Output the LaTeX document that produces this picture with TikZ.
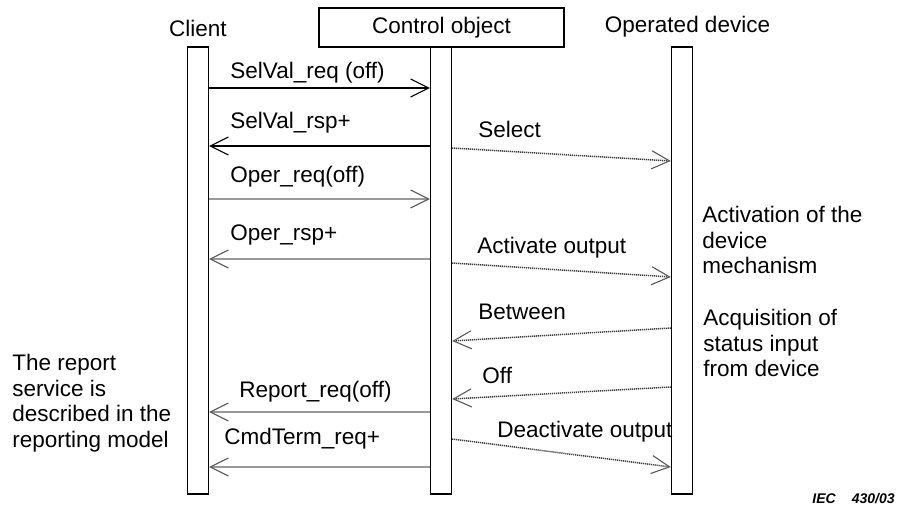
\documentclass[tikz,border=0pt]{standalone}
\usepackage{fontspec}
\setmainfont{Liberation Sans}
\usetikzlibrary{arrows.meta}
\begin{document}
\begin{tikzpicture}[x=0.5pt,y=-0.5pt,
  font=\fontsize{11.25}{12.9}\selectfont,
  bar/.style={draw, line width=0.7pt, minimum width=10.5pt, minimum height=223.5pt, inner sep=0pt},
  lbl/.style={anchor=base west, inner sep=0pt},
  note/.style={anchor=north west, inner sep=0pt, align=left},
  msg/.style={line width=0.55pt, -{Straight Barb[length=9pt,width=9pt]}},
  msgg/.style={line width=0.9pt, draw=black!40, -{Straight Barb[length=9pt,width=9pt,color=black!65,line width=0.55pt]}},
  sig/.style={line width=0.75pt, draw=black!75, dash pattern=on 0.6pt off 0.4pt, -{Straight Barb[length=9pt,width=9pt,color=black!65,line width=0.55pt]}},
]
\useasboundingbox (0,0) rectangle (897,510);

% lifelines
\node[bar] (client) at (198,270.5) {};
\node[bar] (ctrl)   at (441,270.5) {};
\node[bar] (dev)    at (682,270.5) {};

% headers
\node[anchor=base, inner sep=0pt] (clientlbl) at (198,36) {Client};
\node[draw, line width=0.7pt, minimum width=122.5pt, minimum height=19.5pt, inner sep=0pt] (ctrlbox) at (441.5,27.5) {Control object};
\node[anchor=base, inner sep=0pt] (devlbl) at (687.5,32) {Operated device};

% row coordinates
\coordinate (r1) at (0,88);
\coordinate (r2) at (0,146);
\coordinate (r3a) at (0,148);  \coordinate (r3b) at (0,161);
\coordinate (r4) at (0,199);
\coordinate (r5) at (0,259);
\coordinate (r6a) at (0,263);  \coordinate (r6b) at (0,277);
\coordinate (r7a) at (0,328);  \coordinate (r7b) at (0,341);
\coordinate (r8a) at (0,387);  \coordinate (r8b) at (0,399);
\coordinate (r9) at (0,412);
\coordinate (r10) at (0,467);
\coordinate (r11a) at (0,439); \coordinate (r11b) at (0,467);

% messages
\draw[msg]  (client.east |- r1) -- (ctrl.west |- r1);
\draw[msg]  (ctrl.west |- r2) -- (client.east |- r2);
\draw[sig]  (ctrl.east |- r3a) -- (dev.west |- r3b);
\draw[msgg] (client.east |- r4) -- (ctrl.west |- r4);
\draw[msgg] (ctrl.west |- r5) -- (client.east |- r5);
\draw[sig]  (ctrl.east |- r6a) -- (dev.west |- r6b);
\draw[sig]  (dev.west |- r7a) -- (ctrl.east |- r7b);
\draw[sig]  (dev.west |- r8a) -- (ctrl.east |- r8b);
\draw[msgg] (ctrl.west |- r9) -- (client.east |- r9);
\draw[msgg] (ctrl.west |- r10) -- (client.east |- r10);
\draw[sig]  (ctrl.east |- r11a) -- (dev.west |- r11b);

% labels
\node[lbl] (l1) at (230,78) {SelVal\_req (off)};
\node[lbl] (l2) at (230,128) {SelVal\_rsp+};
\node[lbl] (l3) at (478,137) {Select};
\node[lbl] (l4) at (230,182) {Oper\_req(off)};
\node[lbl] (l5) at (230,240) {Oper\_rsp+};
\node[lbl] (l6) at (477,253) {Activate output};
\node[lbl] (l7) at (478,319) {Between};
\node[lbl] (l8) at (482,383) {Off};
\node[lbl] (l9) at (239,397) {Report\_req(off)};
\node[lbl] (l10) at (224,444) {CmdTerm\_req+};
\node[lbl] (l11) at (497,437) {Deactivate output};

% notes
\node[note] (n1) at (12,353.6) {The report\\service is\\described in the\\reporting model};
\node[note] (n2) at (702,205.6) {Activation of the\\device\\mechanism};
\node[note] (n3) at (703,308.6) {Acquisition of\\status input\\from device};

\node[anchor=base east, inner sep=0pt, font=\fontsize{7}{8}\selectfont\bfseries\itshape] (iec) at (895,503) {IEC\hspace{8pt}430/03};
\end{tikzpicture}
\end{document}
